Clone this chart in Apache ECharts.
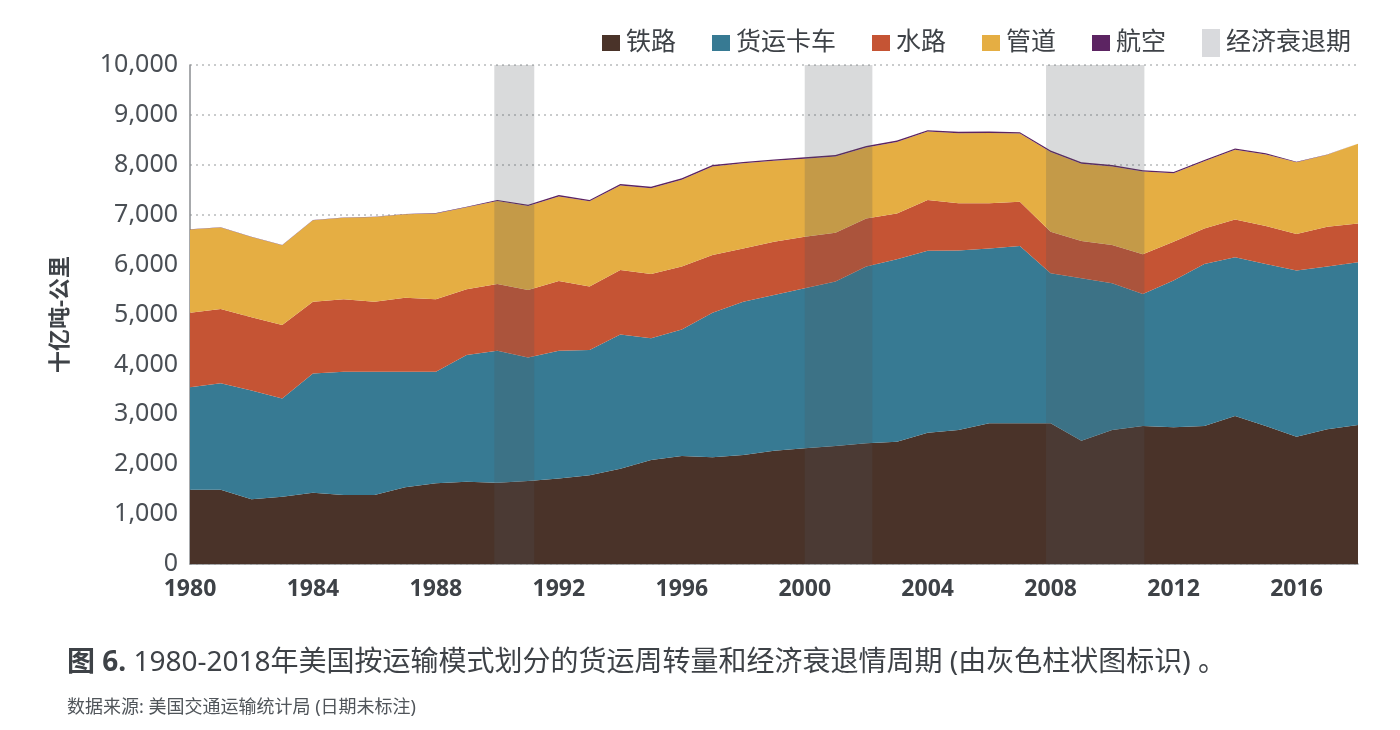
<!DOCTYPE html>
<html>
<head>
<meta charset="utf-8">
<script src="https://cdn.jsdelivr.net/npm/echarts@6/dist/echarts.min.js"></script>
<style>
  html, body { margin: 0; padding: 0; background: #fff; }
  #main { width: 1400px; height: 730px; }
</style>
</head>
<body>
<div id="main"></div>
<script>
// years 1980-2018, 十亿吨-公里
const years = ['1980', '1981', '1982', '1983', '1984', '1985', '1986', '1987', '1988', '1989',
  '1990', '1991', '1992', '1993', '1994', '1995', '1996', '1997', '1998', '1999',
  '2000', '2001', '2002', '2003', '2004', '2005', '2006', '2007', '2008', '2009',
  '2010', '2011', '2012', '2013', '2014', '2015', '2016', '2017', '2018'];
const rail = [1490, 1490, 1300, 1350, 1430, 1385, 1385, 1540, 1620, 1650,
  1630, 1665, 1715, 1780, 1910, 2085, 2165, 2140, 2185, 2270,
  2320, 2365, 2420, 2450, 2630, 2685, 2820, 2820, 2820, 2470,
  2685, 2765, 2740, 2765, 2965, 2765, 2550, 2700, 2785];
const truck = [2050, 2130, 2175, 1965, 2390, 2470, 2470, 2315, 2235, 2540,
  2645, 2475, 2560, 2510, 2690, 2440, 2535, 2895, 3070, 3120,
  3205, 3295, 3540, 3655, 3650, 3600, 3505, 3555, 3005, 3255,
  2940, 2645, 2940, 3245, 3180, 3245, 3330, 3260, 3260];
const water = [1495, 1490, 1470, 1475, 1435, 1450, 1400, 1480, 1450, 1315,
  1335, 1350, 1395, 1270, 1290, 1285, 1260, 1155, 1070, 1070,
  1035, 980, 965, 920, 1015, 945, 905, 885, 835, 750,
  770, 795, 780, 715, 760, 765, 735, 800, 780];
const pipeline = [1670, 1635, 1610, 1600, 1635, 1635, 1700, 1675, 1720, 1645,
  1665, 1685, 1695, 1710, 1695, 1720, 1740, 1775, 1705, 1620,
  1560, 1525, 1420, 1430, 1370, 1400, 1405, 1365, 1595, 1545,
  1570, 1660, 1370, 1345, 1395, 1430, 1435, 1440, 1595];
const air = [4, 4, 4, 5, 5, 5, 6, 6, 7, 8,
  20, 22, 28, 25, 30, 28, 28, 30, 28, 28,
  30, 30, 32, 30, 28, 30, 30, 28, 30, 30,
  30, 28, 28, 26, 28, 26, 10, 8, 8];
// recession periods [start, end] in years
const recessions = [[1989.9, 1991.2], [2000.0, 2002.2], [2007.85, 2011.05]];

const seriesNames = ['铁路', '货运卡车', '水路', '管道', '航空'];
const seriesColors = ['#4a3329', '#377a93', '#c55434', '#e5ae43', '#5c2462'];
const seriesValues = [rail, truck, water, pipeline, air];

const FONT = '"Noto Sans", "Noto Sans CJK SC", sans-serif';
const TEXT = '#3e4247';

const chart = echarts.init(document.getElementById('main'));

const stackSeries = seriesNames.map((name, i) => ({
  name: name,
  type: 'line',
  stack: 'total',
  symbol: 'none',
  showSymbol: false,
  lineStyle: { width: 0 },
  itemStyle: { color: seriesColors[i] },
  areaStyle: { color: seriesColors[i], opacity: 1 },
  z: 2,
  data: seriesValues[i]
}));

const squareIcon = 'path://M0 0h18v16h-18z';

const options = {
  animation: false,
  textStyle: { fontFamily: FONT },
  title: [
    {
      text: '{b|图 6.} 1980-2018年美国按运输模式划分的货运周转量和经济衰退情周期 (由灰色柱状图标识) 。',
      left: 62,
      top: 644,
      textStyle: {
        fontFamily: FONT,
        fontSize: 28,
        fontWeight: 'normal',
        color: TEXT,
        rich: {
          b: { fontFamily: FONT, fontSize: 28, fontWeight: 'bold', color: TEXT }
        }
      }
    },
    {
      text: '数据来源: 美国交通运输统计局 (日期未标注)',
      left: 62,
      top: 694,
      textStyle: { fontFamily: FONT, fontSize: 18, fontWeight: 'normal', color: '#50555a' }
    }
  ],
  legend: {
    right: 44,
    top: 24,
    itemWidth: 18,
    itemHeight: 28,
    itemGap: 36,
    symbolKeepAspect: true,
    textStyle: { fontFamily: FONT, fontSize: 25, color: TEXT, padding: [0, 0, 0, 1] },
    data: seriesNames.map((n, i) => ({ name: n, icon: squareIcon, itemStyle: { color: seriesColors[i] } }))
      .concat([{ name: '经济衰退期', icon: 'path://M0 0h18v28h-18z', itemStyle: { color: '#d9dadd' } }])
  },
  grid: {
    left: 190,
    right: 42,
    top: 65,
    bottom: 166,
    containLabel: false
  },
  xAxis: [
    {
      type: 'category',
      data: years,
      boundaryGap: false,
      axisLine: { show: true, lineStyle: { color: '#8a8d90', width: 1.5 } },
      axisTick: { show: false },
      splitLine: { show: false },
      axisLabel: {
        interval: 3,
        margin: 14,
        fontFamily: FONT,
        fontSize: 23,
        fontWeight: 'bold',
        color: TEXT
      }
    },
    {
      // hidden continuous year axis for the recession bands
      type: 'value',
      min: 1980,
      max: 2018,
      show: false,
      splitLine: { show: false }
    }
  ],
  yAxis: {
    type: 'value',
    min: 0,
    max: 10000,
    interval: 1000,
    name: '十亿吨-公里',
    nameLocation: 'middle',
    nameRotate: 90,
    nameGap: 118,
    nameTextStyle: { fontFamily: FONT, fontSize: 22, fontWeight: 'bold', color: TEXT },
    axisLine: { show: true, lineStyle: { color: '#8a8d90', width: 1.5 } },
    axisTick: { show: false },
    splitLine: { show: true, lineStyle: { color: '#b8babc', type: [2, 4], width: 1.5 } },
    axisLabel: {
      margin: 12,
      fontFamily: FONT,
      fontSize: 25,
      color: '#4a4f55',
      formatter: (v) => v.toLocaleString('en-US')
    }
  },
  series: stackSeries.concat([
    {
      name: '经济衰退期',
      type: 'custom',
      xAxisIndex: 1,
      z: 10,
      silent: true,
      itemStyle: { color: '#d9dadd' },
      data: recessions,
      encode: { x: [0, 1] },
      renderItem: (params, api) => {
        const p0 = api.coord([api.value(0), 10000]);
        const p1 = api.coord([api.value(1), 0]);
        return {
          type: 'rect',
          shape: { x: p0[0], y: p0[1], width: p1[0] - p0[0], height: p1[1] - p0[1] },
          style: { fill: 'rgba(84,87,93,0.22)' }
        };
      }
    }
  ])
};

chart.setOption(options);
</script>
</body>
</html>
